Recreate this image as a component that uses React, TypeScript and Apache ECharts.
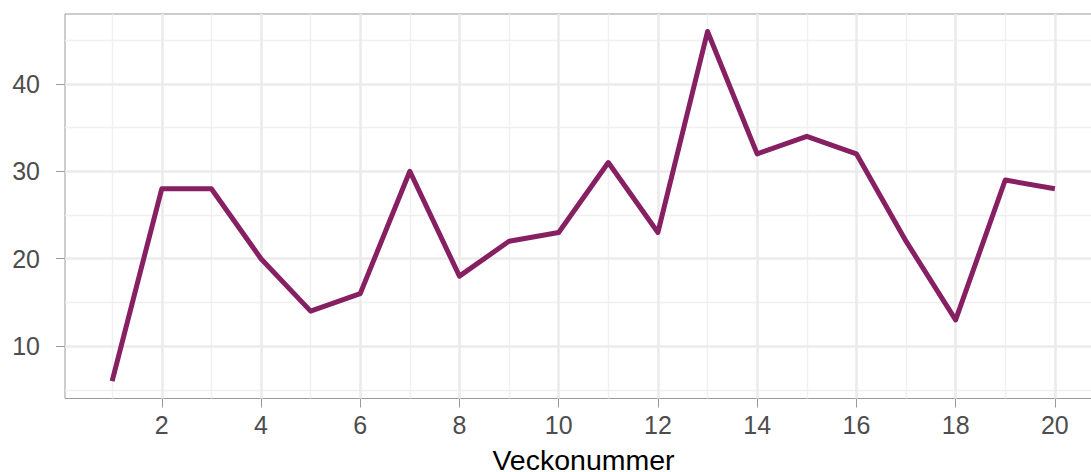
import React, { useEffect, useRef } from "react";
import * as echarts from "echarts";

const weeks = [1, 2, 3, 4, 5, 6, 7, 8, 9, 10, 11, 12, 13, 14, 15, 16, 17, 18, 19, 20];
const values = [6, 28, 28, 20, 14, 16, 30, 18, 22, 23, 31, 23, 46, 32, 34, 32, 22, 13, 29, 28];
const xTicks = [2, 4, 6, 8, 10, 12, 14, 16, 18, 20];
const xMinor = [1, 3, 5, 7, 9, 11, 13, 15, 17, 19];
const yTicks = [10, 20, 30, 40];
const yMinor = [5, 15, 25, 35, 45];
const xTitle = "Veckonummer";

export default function App() {
  const ref = useRef<HTMLDivElement>(null);
  useEffect(() => {
    document.body.style.margin = "0";
    const chart = echarts.init(ref.current!, null, { renderer: "svg" });
    const majorStyle = { color: "#EBEBEB", width: 2.6, type: "solid" };
    const minorStyle = { color: "#F0F0F0", width: 1.4, type: "solid" };
    const gridLines = [
      ...xMinor.map((v) => ({ xAxis: v, lineStyle: minorStyle })),
      ...yMinor.map((v) => ({ yAxis: v, lineStyle: minorStyle })),
      ...xTicks.map((v) => ({ xAxis: v, lineStyle: majorStyle })),
      ...yTicks.map((v) => ({ yAxis: v, lineStyle: majorStyle })),
    ];
    chart.setOption({
      animation: false,
      grid: {
        left: 65,
        right: -11,
        top: 14,
        bottom: 73.5,
        outerBoundsMode: "none",
        containLabel: false,
        show: true,
        borderColor: "#9A9A9A",
        borderWidth: 1,
        backgroundColor: "transparent",
      },
      xAxis: {
        type: "value",
        min: 0.05,
        max: 20.95,
        axisLine: { show: false },
        splitLine: { show: false },
        axisTick: {
          show: true,
          customValues: xTicks,
          length: 9,
          lineStyle: { color: "#9A9A9A", width: 1 },
        },
        axisLabel: {
          customValues: xTicks,
          margin: 14,
          fontSize: 25,
          color: "#4D4D4D",
          fontFamily: "Liberation Sans, Arial, sans-serif",
        },
        name: xTitle,
        nameLocation: "middle",
        nameGap: 61,
        nameTextStyle: {
          fontSize: 28.5,
          lineHeight: 22,
          verticalAlign: "middle",
          color: "#000000",
          fontFamily: "Liberation Sans, Arial, sans-serif",
        },
      },
      yAxis: {
        type: "value",
        min: 4,
        max: 48,
        axisLine: { show: false },
        splitLine: { show: false },
        axisTick: {
          show: true,
          customValues: yTicks,
          length: 9,
          lineStyle: { color: "#9A9A9A", width: 1 },
        },
        axisLabel: {
          customValues: yTicks,
          margin: 25,
          fontSize: 25,
          color: "#4D4D4D",
          fontFamily: "Liberation Sans, Arial, sans-serif",
        },
      },
      series: [
        {
          type: "line",
          data: [],
          z: 1,
          silent: true,
          markLine: {
            silent: true,
            symbol: ["none", "none"],
            label: { show: false },
            emphasis: { disabled: true },
            data: gridLines,
          },
        },
        {
          type: "line",
          z: 5,
          data: weeks.map((w, i) => [w, values[i]]),
          showSymbol: false,
          symbol: "none",
          lineStyle: { color: "#862063", width: 5, join: "round", cap: "butt" },
          itemStyle: { color: "#862063" },
        },
      ],
    });
    return () => chart.dispose();
  }, []);
  return <div ref={ref} style={{ width: 1091, height: 472 }} />;
}
